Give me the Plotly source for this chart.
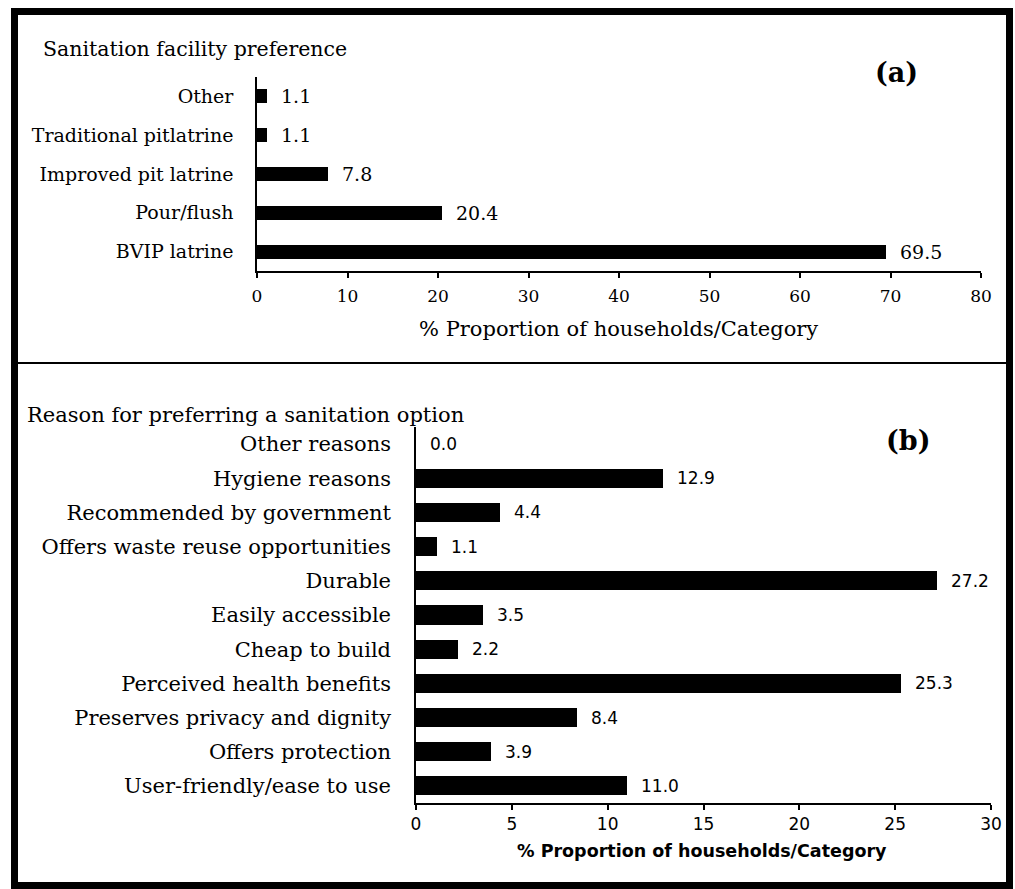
import plotly.graph_objects as go

W, H = 1015, 889

# Panel (a)
cats_a = ["Other", "Traditional pitlatrine", "Improved pit latrine", "Pour/flush", "BVIP latrine"]
vals_a = [1.1, 1.1, 7.8, 20.4, 69.5]
ticks_a = [0, 10, 20, 30, 40, 50, 60, 70, 80]

# Panel (b)
cats_b = ["Other reasons", "Hygiene reasons", "Recommended by government",
          "Offers waste reuse opportunities", "Durable", "Easily accessible",
          "Cheap to build", "Perceived health benefits",
          "Preserves privacy and dignity", "Offers protection",
          "User-friendly/ease to use"]
vals_b = [0.0, 12.9, 4.4, 1.1, 27.2, 3.5, 2.2, 25.3, 8.4, 3.9, 11.0]
ticks_b = [0, 5, 10, 15, 20, 25, 30]

SERIF = "DejaVu Serif"
SANS = "DejaVu Sans"


def px(x):
    return x / W


def py(y):
    return 1 - y / H


fig = go.Figure()
fig.add_trace(go.Bar(x=vals_a, y=cats_a, orientation="h", marker_color="black",
                     marker_line_width=0, width=0.36, xaxis="x", yaxis="y",
                     hoverinfo="x+y"))
fig.add_trace(go.Bar(x=vals_b, y=cats_b, orientation="h", marker_color="black",
                     marker_line_width=0, width=0.56, xaxis="x2", yaxis="y2",
                     hoverinfo="x+y"))

annotations = []
for c, v in zip(cats_a, vals_a):
    annotations.append(dict(x=v, y=c, xref="x", yref="y", text=f"{v:.1f}",
                            xanchor="left", xshift=12, showarrow=False,
                            font=dict(family=SERIF, size=19, color="black")))
for c, v in zip(cats_b, vals_b):
    annotations.append(dict(x=v, y=c, xref="x2", yref="y2", text=f"{v:.1f}",
                            xanchor="left", xshift=12, showarrow=False,
                            font=dict(family=SANS, size=17, color="black")))

# titles and panel letters
annotations += [
    dict(x=px(41), y=py(49), xref="paper", yref="paper", text="Sanitation facility preference",
         xanchor="left", yanchor="middle", showarrow=False,
         font=dict(family=SERIF, size=20.5, color="black")),
    dict(x=px(896), y=py(72), xref="paper", yref="paper", text="<b>(a)</b>",
         xanchor="center", yanchor="middle", showarrow=False,
         font=dict(family=SERIF, size=27, color="black")),
    dict(x=px(618), y=py(329), xref="paper", yref="paper",
         text="% Proportion of households/Category",
         xanchor="center", yanchor="middle", showarrow=False,
         font=dict(family=SERIF, size=21, color="black")),
    dict(x=px(25), y=py(415), xref="paper", yref="paper",
         text="Reason for preferring a sanitation option",
         xanchor="left", yanchor="middle", showarrow=False,
         font=dict(family=SERIF, size=21, color="black")),
    dict(x=px(908), y=py(440), xref="paper", yref="paper", text="<b>(b)</b>",
         xanchor="center", yanchor="middle", showarrow=False,
         font=dict(family=SERIF, size=27, color="black")),
    dict(x=px(702), y=py(851), xref="paper", yref="paper",
         text="<b>% Proportion of households/Category</b>",
         xanchor="center", yanchor="middle", showarrow=False,
         font=dict(family=SANS, size=17.5, color="black")),
]

shapes = [
    dict(type="rect", xref="paper", yref="paper", x0=px(14.5), x1=px(1009.5),
         y0=py(885.5), y1=py(11.5), line=dict(color="black", width=7)),
    dict(type="line", xref="paper", yref="paper", x0=px(18), x1=px(1006),
         y0=py(363), y1=py(363), line=dict(color="black", width=2)),
]

axis_common = dict(showline=True, linecolor="black", linewidth=1.5, showgrid=False,
                   zeroline=False, automargin=False)

fig.update_layout(
    template="none",
    width=W, height=H,
    autosize=False,
    margin=dict(l=0, r=0, t=0, b=0, pad=0, autoexpand=False),
    paper_bgcolor="white", plot_bgcolor="white",
    showlegend=False, bargap=0,
    annotations=annotations, shapes=shapes,
    xaxis=dict(domain=[px(257), px(981)], range=[0, 80], tickvals=ticks_a,
               ticks="outside", ticklen=5, tickcolor="black", tickwidth=1.5,
               anchor="y", ticklabelstandoff=4,
               tickfont=dict(family=SERIF, size=17, color="black"), **axis_common),
    yaxis=dict(domain=[py(271), py(77)], autorange="reversed", ticks="",
               anchor="x", ticklabelstandoff=18,
               tickfont=dict(family=SERIF, size=19, color="black"), **axis_common),
    xaxis2=dict(domain=[px(416), px(991)], range=[0, 30], tickvals=ticks_b,
                ticks="outside", ticklen=5, tickcolor="black", tickwidth=1.5,
                anchor="y2", ticklabelstandoff=0,
                tickfont=dict(family=SANS, size=17, color="black"), **axis_common),
    yaxis2=dict(domain=[py(803), py(427)], autorange="reversed", ticks="",
                anchor="x2", ticklabelstandoff=19,
                tickfont=dict(family=SERIF, size=21, color="black"), **axis_common),
)

fig.write_html(
    "out.html",
    config={"displayModeBar": False},
    post_script=(
        "document.documentElement.style.margin='0';"
        "document.documentElement.style.overflow='hidden';"
        "document.body.style.margin='0';document.body.style.overflow='hidden';"
    ),
)
